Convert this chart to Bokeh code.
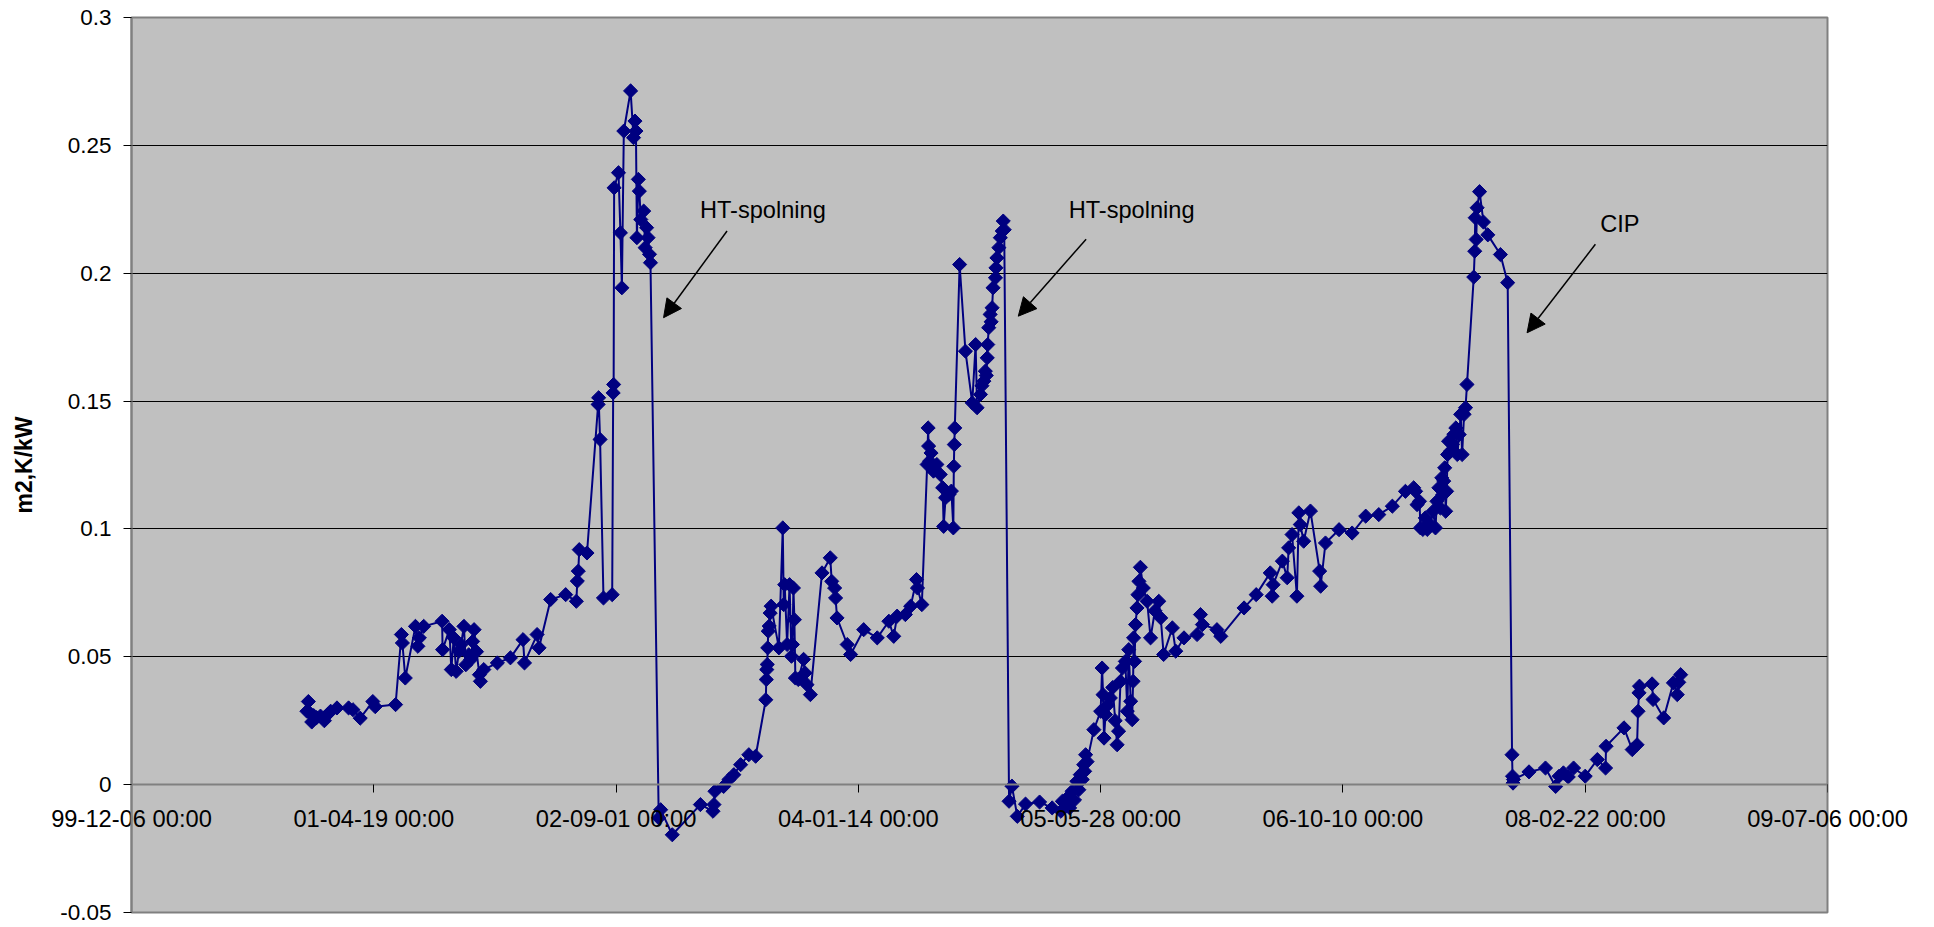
import numpy as np
from bokeh.plotting import figure
from bokeh.models import (FixedTicker, DatetimeTickFormatter, DatetimeAxis, Arrow,
                          NormalHead, Label, ColumnDataSource, Range1d)
from bokeh.embed import file_html
from bokeh.resources import INLINE

# ---------------- data (Excel serial dates, m2,K/kW) ----------------
serial_dates = [
    36862, 36865, 36868, 36872, 36876, 36882, 36890, 36898, 36905, 36911,
    36924, 36948, 36957, 36972, 36998, 37003, 37045, 37057, 37059, 37065,
    37086, 37091, 37094, 37103, 37141, 37142, 37156, 37160, 37165, 37170,
    37176, 37180, 37186, 37190, 37196, 37200, 37204, 37207, 37212, 37218,
    37220, 37227, 37255, 37282, 37308, 37311, 37337, 37341, 37365, 37396,
    37418, 37420, 37422, 37424, 37440, 37463, 37464, 37467, 37474, 37492,
    37494, 37495, 37496, 37505, 37509, 37512, 37516, 37530, 37536, 37539,
    37541, 37543, 37546, 37548, 37551, 37557, 37560, 37563, 37566, 37569,
    37571,
    37588, 37592, 37616, 37674, 37700, 37702, 37704, 37722, 37733, 37743,
    37757, 37774, 37788, 37809, 37810, 37811, 37812, 37813, 37814, 37816,
    37818, 37820, 37836, 37844, 37846, 37848, 37853, 37858, 37862, 37864,
    37866, 37868, 37870, 37876, 37887, 37890, 37894, 37901, 37925, 37942,
    37945, 37951, 37953, 37956, 37977, 37984, 38011, 38039, 38063, 38073,
    38080, 38097, 38108, 38120, 38122, 38131, 38142, 38144, 38145, 38147,
    38150, 38155, 38162, 38169, 38174, 38176, 38180, 38187, 38192, 38196,
    38197, 38198, 38199, 38209, 38221, 38235, 38242, 38245, 38252, 38255,
    38259, 38262, 38264, 38266, 38267, 38269, 38272, 38274, 38276, 38278,
    38283, 38284, 38286, 38290, 38293, 38297, 38299, 38301,
    38311, 38317, 38328, 38345, 38374, 38400, 38418, 38421, 38428, 38431,
    38436, 38441, 38446, 38451, 38455, 38458, 38462, 38465, 38467, 38469,
    38472, 38486, 38500, 38503, 38505, 38507, 38510, 38514, 38520, 38525,
    38530, 38534, 38537, 38541, 38545, 38551, 38555, 38558, 38562, 38565,
    38567, 38568, 38570, 38572, 38575, 38577, 38579, 38582, 38588, 38596,
    38603, 38612, 38620, 38624, 38630, 38648, 38655, 38672, 38699, 38706,
    38710, 38740, 38748, 38796, 38821, 38850, 38854, 38856, 38875, 38885,
    38888, 38895, 38905, 38909, 38912, 38919, 38933, 38952, 38954, 38964,
    38992, 39019, 39047, 39074, 39102, 39129, 39146, 39150, 39153, 39158,
    39160, 39165, 39170, 39174, 39180, 39186, 39191, 39194, 39198, 39201,
    39204, 39206, 39208, 39210, 39212, 39214, 39216, 39218, 39222, 39226,
    39229, 39233, 39236, 39240, 39243, 39246, 39250, 39253, 39256, 39270,
    39272, 39273, 39275, 39277, 39282, 39290, 39299, 39325, 39340,
    39349, 39350, 39351, 39352, 39384, 39418, 39439, 39446, 39455, 39465,
    39476, 39500, 39525, 39542, 39543, 39580, 39597, 39607, 39609, 39611,
    39612, 39638, 39640, 39662, 39682, 39690, 39693, 39697,
]
fouling = [
    0.0287, 0.0325, 0.0280, 0.0245, 0.0270, 0.0262, 0.0268, 0.0250, 0.0275, 0.0287,
    0.0300, 0.0300, 0.0293, 0.0260, 0.0325, 0.0305, 0.0313, 0.0587, 0.0554, 0.0417,
    0.0619, 0.0541, 0.0574, 0.0619, 0.0639, 0.0528, 0.0606, 0.0450, 0.0574, 0.0443,
    0.0522, 0.0548, 0.0619, 0.0469, 0.0508, 0.0489, 0.0560, 0.0606, 0.0520, 0.0430,
    0.0404, 0.0450, 0.0476, 0.0496, 0.0567, 0.0476, 0.0587, 0.0535, 0.0724, 0.0743,
    0.0717, 0.0796, 0.0835, 0.0919, 0.0906, 0.1487, 0.1513, 0.1350, 0.0730, 0.0743,
    0.1532, 0.1565, 0.2334, 0.2393, 0.2158, 0.1943, 0.2556, 0.2713, 0.2530, 0.2595,
    0.2556, 0.2139, 0.2367, 0.2321, 0.2210, 0.2243, 0.2100, 0.2178, 0.2139, 0.2074,
    0.2041,
    -0.0130, -0.0098, -0.0196, -0.0078, -0.0104, -0.0078, -0.0026, -0.0007, 0.0020, 0.0039,
    0.0078, 0.0117, 0.0111, 0.0332, 0.0411, 0.0450, 0.0470, 0.0535, 0.0600, 0.0620,
    0.0671, 0.0698, 0.0535, 0.1004, 0.0704, 0.0782, 0.0548, 0.0782, 0.0502, 0.0548,
    0.0769, 0.0645, 0.0417, 0.0411, 0.0490, 0.0437, 0.0391, 0.0352, 0.0828, 0.0887,
    0.0795, 0.0769, 0.0730, 0.0652, 0.0548, 0.0509, 0.0606, 0.0574, 0.0639, 0.0580,
    0.0659, 0.0665, 0.0698, 0.0802, 0.0769, 0.0704, 0.1252, 0.1395, 0.1324, 0.1265,
    0.1297, 0.1226, 0.1252, 0.1213, 0.1161, 0.1010, 0.1122, 0.1135, 0.1148, 0.1004,
    0.1245, 0.1330, 0.1395, 0.2034, 0.1695, 0.1493, 0.1721, 0.1474, 0.1526, 0.1560,
    0.1578, 0.1617, 0.1600, 0.1669, 0.1721, 0.1787, 0.1839, 0.1810, 0.1865, 0.1943,
    0.1982, 0.2021, 0.2060, 0.2100, 0.2139, 0.2165, 0.2204, 0.2170,
    -0.0065, -0.0006, -0.0124, -0.0076, -0.0068, -0.0091, -0.0104, -0.0065, -0.0078, -0.0052,
    -0.0091, -0.0026, -0.0060, 0.0013, -0.0020, 0.0039, 0.0020, 0.0078, 0.0052, 0.0117,
    0.0090, 0.0215, 0.0287, 0.0456, 0.0352, 0.0182, 0.0274, 0.0310, 0.0339, 0.0380,
    0.0250, 0.0156, 0.0209, 0.0404, 0.0456, 0.0482, 0.0287, 0.0528, 0.0326, 0.0254,
    0.0404, 0.0574, 0.0482, 0.0626, 0.0691, 0.0743, 0.0795, 0.0850, 0.0769, 0.0717,
    0.0574, 0.0680, 0.0717, 0.0652, 0.0509, 0.0613, 0.0522, 0.0574, 0.0587, 0.0665,
    0.0626, 0.0606, 0.0580, 0.0691, 0.0743, 0.0828, 0.0737, 0.0782, 0.0874, 0.0809,
    0.0926, 0.0978, 0.0737, 0.1063, 0.1017, 0.0952, 0.1070, 0.0835, 0.0776, 0.0945,
    0.0997, 0.0984, 0.1050, 0.1056, 0.1089, 0.1147, 0.1161, 0.1147, 0.1095, 0.1108,
    0.1004, 0.0998, 0.1043, 0.0998, 0.1017, 0.1069, 0.1004, 0.1108, 0.1161, 0.1082,
    0.1200, 0.1134, 0.1187, 0.1239, 0.1069, 0.1147, 0.1291, 0.1343, 0.1304, 0.1330,
    0.1370, 0.1395, 0.1291, 0.1369, 0.1448, 0.1291, 0.1448, 0.1474, 0.1565, 0.1985,
    0.2086, 0.2217, 0.2132, 0.2256, 0.2319, 0.2200, 0.2150, 0.2073, 0.1963,
    0.0117, 0.0033, 0.0006, 0.0020, 0.0050, 0.0065, -0.0007, 0.0033, 0.0046, 0.0030,
    0.0065, 0.0033, 0.0098, 0.0065, 0.0150, 0.0222, 0.0137, 0.0156, 0.0287, 0.0359,
    0.0385, 0.0394, 0.0333, 0.0261, 0.0398, 0.0352, 0.0400, 0.0430,
]

x_tick_serials = [36500, 37000, 37500, 38000, 38500, 39000, 39500, 40000]
x_tick_labels = ["99-12-06 00:00", "01-04-19 00:00", "02-09-01 00:00",
                 "04-01-14 00:00", "05-05-28 00:00", "06-10-10 00:00",
                 "08-02-22 00:00", "09-07-06 00:00"]
y_ticks = [-0.05, 0.0, 0.05, 0.1, 0.15, 0.2, 0.25, 0.3]
y_tick_labels = ["-0.05", "0", "0.05", "0.1", "0.15", "0.2", "0.25", "0.3"]

note_texts = ["HT-spolning", "HT-spolning", "CIP"]
note_serial = [37673, 38434, 39531]
note_value = [0.2246, 0.2249, 0.2191]
arrow_start_serial = [37729, 38470, 39521]
arrow_start_value = [0.2165, 0.2133, 0.2113]
arrow_end_serial = [37598, 38330, 39380]
arrow_end_value = [0.1826, 0.1832, 0.1767]

y_title = "m2,K/kW"

# ---------------- helpers ----------------
EXCEL_UNIX_OFFSET = 25569  # Excel serial of 1970-01-01
MS_PER_DAY = 86400000


def to_ms(s):
    return (s - EXCEL_UNIX_OFFSET) * MS_PER_DAY


FONT = "Liberation Sans"
x_tick_ms = [to_ms(s) for s in x_tick_serials]

src = ColumnDataSource(data=dict(
    x=[to_ms(s) for s in serial_dates],
    y=fouling,
))

p = figure(
    width=1920, height=927,
    x_axis_type="datetime",
    x_range=Range1d(x_tick_ms[0], x_tick_ms[-1]),
    y_range=Range1d(y_ticks[0], y_ticks[-1]),
    output_backend="svg", toolbar_location=None,
    min_border_left=131, min_border_right=93, min_border_top=17, min_border_bottom=15,
    background_fill_color="#C0C0C0", border_fill_color="white",
    outline_line_color="#808080", outline_line_width=2,
)

# grid
p.xgrid.visible = False
p.ygrid.ticker = FixedTicker(ticks=y_ticks)
p.ygrid.grid_line_color = "black"
p.ygrid.grid_line_width = 1
p.ygrid.grid_line_alpha = 1.0

# x axis crossing at y = 0: line and ticks
xa = p.xaxis[0]
xa.fixed_location = 0
xa.ticker = FixedTicker(ticks=x_tick_ms)
fmt = "%y-%m-%d %H:%M"
xa.formatter = DatetimeTickFormatter(
    microseconds=fmt, milliseconds=fmt, seconds=fmt, minsec=fmt, minutes=fmt,
    hourmin=fmt, hours=fmt, days=fmt, months=fmt, years=fmt)
xa.axis_line_color = "#808080"
xa.axis_line_width = 2
xa.major_tick_line_color = "black"
xa.major_tick_out = 8
xa.major_tick_in = 0
xa.minor_tick_line_color = None
xa.major_label_text_color = None

# x tick labels: an unclipped axis in the bottom panel, labels lifted under y = 0
xl = DatetimeAxis(ticker=FixedTicker(ticks=x_tick_ms),
                  major_label_overrides={m: l for m, l in zip(x_tick_ms, x_tick_labels)})
xl.axis_line_color = None
xl.major_tick_line_color = None
xl.minor_tick_line_color = None
xl.major_tick_out = 0
xl.major_tick_in = 0
xl.major_label_text_font = FONT
xl.major_label_text_font_size = "23.7px"
xl.major_label_text_color = "black"
xl.major_label_standoff = -107
p.add_layout(xl, "below")

# y axis
ya = p.yaxis[0]
ya.ticker = FixedTicker(ticks=y_ticks)
ya.major_label_overrides = {t: l for t, l in zip(y_ticks, y_tick_labels)}
ya.axis_line_color = "#808080"
ya.axis_line_width = 2
ya.major_tick_line_color = "black"
ya.major_tick_out = 8
ya.major_tick_in = 0
ya.minor_tick_line_color = None
ya.major_label_text_font = FONT
ya.major_label_text_font_size = "22.5px"
ya.major_label_text_color = "black"
ya.major_label_standoff = 12
ya.axis_label = y_title
ya.axis_label_text_font = FONT
ya.axis_label_text_font_style = "bold"
ya.axis_label_text_font_size = "23px"
ya.axis_label_text_color = "black"
ya.axis_label_standoff = 20

# series
p.line("x", "y", source=src, line_color="#000080", line_width=2)
p.scatter("x", "y", source=src, marker="square", angle=np.pi / 4, size=10,
          fill_color="#000080", line_color="#000080")

# annotations
for t, s, v in zip(note_texts, note_serial, note_value):
    p.add_layout(Label(x=to_ms(s), y=v, text=t, text_font=FONT,
                       text_font_size="23.6px", text_color="black",
                       text_align="left", text_baseline="alphabetic"))
for xs, ys, xe, ye in zip(arrow_start_serial, arrow_start_value,
                          arrow_end_serial, arrow_end_value):
    p.add_layout(Arrow(x_start=to_ms(xs), y_start=ys, x_end=to_ms(xe), y_end=ye,
                       line_color="black", line_width=1.5,
                       end=NormalHead(size=18, fill_color="black",
                                      line_color="black", line_width=1)))

open("out.html", "w").write(file_html(p, INLINE))
